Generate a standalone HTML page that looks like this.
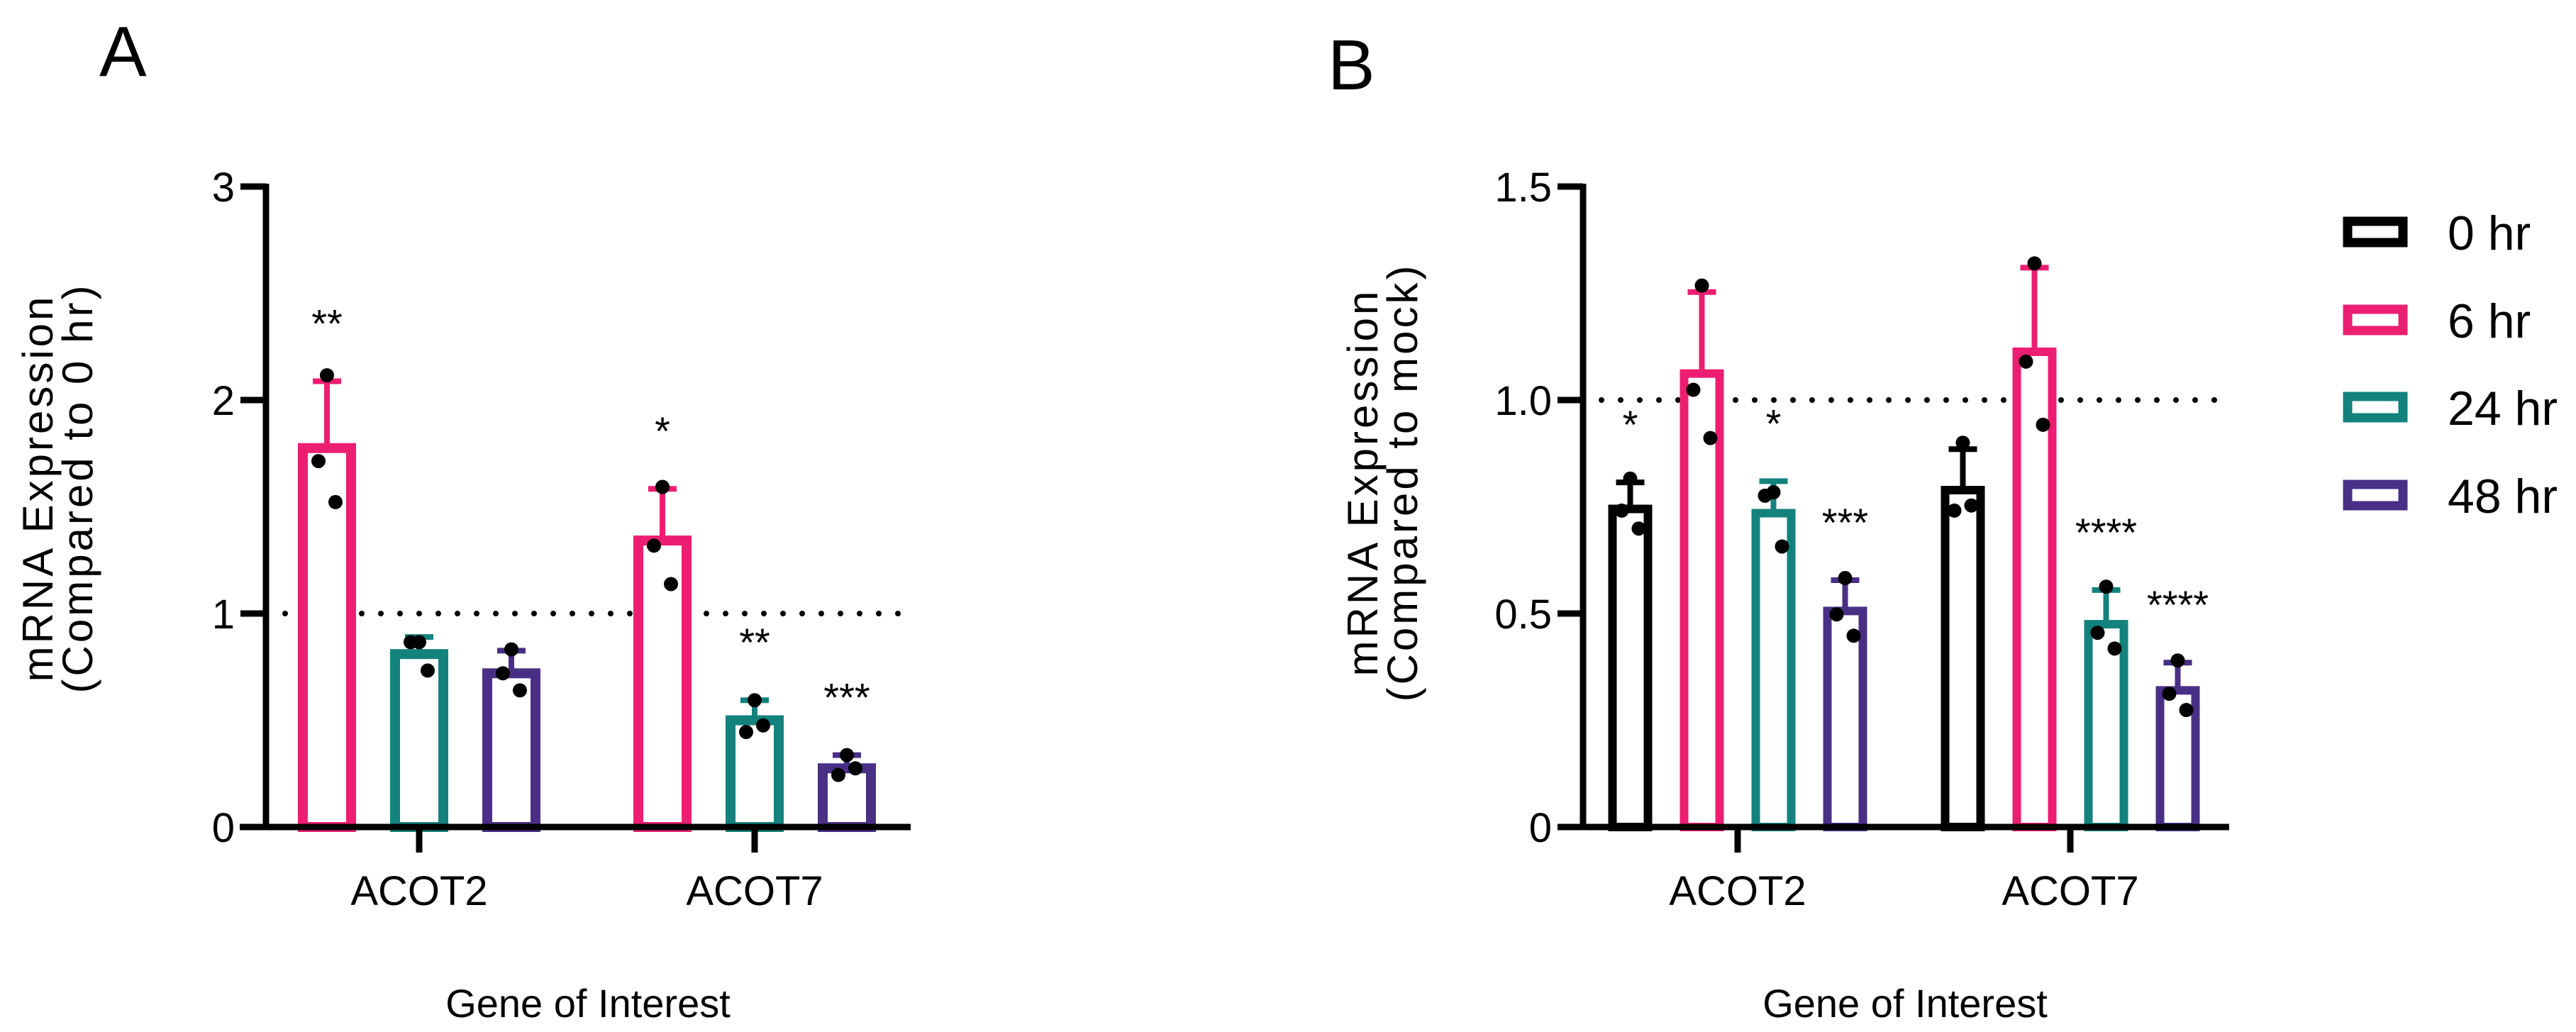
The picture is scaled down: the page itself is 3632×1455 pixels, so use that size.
<!DOCTYPE html>
<html><head><meta charset="utf-8">
<style>
html,body{margin:0;padding:0;background:#fff;}
svg{display:block;}
text{font-family:"Liberation Sans",Arial,sans-serif;fill:#000;}
</style></head>
<body>
<svg id="chart" width="3632" height="1455" viewBox="0 0 3632 1455" xmlns="http://www.w3.org/2000/svg">
  <text x="140" y="107" font-size="100">A</text>
  <text x="1872" y="126" font-size="100">B</text>
  <g id="pa"></g>
  <g id="pb"></g>
  <g id="legend"></g>
</svg>
<script>
const genes = ["ACOT2", "ACOT7"];
const seriesNames = ["0 hr", "6 hr", "24 hr", "48 hr"];
const seriesColors = ["#000000", "#ec1e72", "#13827d", "#4a2f86"];

// Panel A (0 hr absent, reference = 1)
const aSeries = [1, 2, 3];
const aMeans = [[1.775, 0.81, 0.72], [1.342, 0.50, 0.275]];
const aErrTop = [[2.088, 0.89, 0.826], [1.584, 0.594, 0.337]];
const aPoints = [
  [[2.116, 1.714, 1.522], [0.866, 0.866, 0.733], [0.832, 0.72, 0.64]],
  [[1.593, 1.318, 1.138], [0.594, 0.445, 0.476], [0.337, 0.244, 0.275]]
];
const aStars = [["**", "", ""], ["*", "**", "***"]];
const aTicks = [0, 1, 2, 3];
const aTickLabels = ["0", "1", "2", "3"];

// Panel B
const bSeries = [0, 1, 2, 3];
const bMeans = [[0.745, 1.062, 0.735, 0.506], [0.789, 1.113, 0.475, 0.320]];
const bErrTop = [[0.807, 1.253, 0.810, 0.578], [0.885, 1.310, 0.555, 0.385]];
const bPoints = [
  [[0.816, 0.741, 0.699], [1.268, 1.024, 0.911], [0.784, 0.776, 0.657], [0.583, 0.498, 0.448]],
  [[0.900, 0.741, 0.753], [1.320, 1.090, 0.942], [0.563, 0.455, 0.418], [0.390, 0.312, 0.274]]
];
const bStars = [["*", "", "*", "***"], ["", "", "****", "****"]];
const bTicks = [0, 0.5, 1.0, 1.5];
const bTickLabels = ["0", "0.5", "1.0", "1.5"];

const NS = "http://www.w3.org/2000/svg";
function mk(tag, attrs, parent) {
  const e = document.createElementNS(NS, tag);
  for (const k in attrs) e.setAttribute(k, attrs[k]);
  parent.appendChild(e);
  return e;
}
const jit = [0, -12, 12];

function drawPanel(g, cfg) {
  const yS = v => cfg.y0 - (v - 0) / cfg.yMax * (cfg.y0 - cfg.yTop);
  let l = mk("line", {x1: cfg.dotX1, x2: cfg.dotX2, y1: yS(1), y2: yS(1), stroke: "#000", "stroke-width": 8, "stroke-dasharray": "0 27", "stroke-linecap": "round"}, g);
  
  
  genes.forEach((gene, gi) => {
    const cx = cfg.groupX[gi];
    cfg.series.forEach((si, k) => {
      const n = cfg.series.length;
      const x = cx + (k - (n - 1) / 2) * cfg.slot;
      const col = seriesColors[si];
      const m = cfg.means[gi][k];
      const sw = cfg.sw;
      const bar = mk("rect", {x: x - cfg.bw / 2 + sw / 2, y: yS(m), width: cfg.bw - sw, height: yS(0) - yS(m), fill: "#fff", stroke: col, "stroke-width": sw}, g);
      
      
      const et = cfg.err[gi][k];
      const eb = mk("line", {x1: x, x2: x, y1: yS(m), y2: yS(et), stroke: col, "stroke-width": 8}, g);
      
      
      const cap = mk("line", {x1: x - 20, x2: x + 20, y1: yS(et), y2: yS(et), stroke: col, "stroke-width": 8}, g);
      
      
      cfg.points[gi][k].forEach((p, pi) => {
        const c = mk("circle", {cx: x + jit[pi], cy: yS(p), r: 10, fill: "#000"}, g);
        
        
      });
      const st = cfg.stars[gi][k];
      if (st) {
        const t = mk("text", {x: x, y: yS(et) - 62, "font-size": 56, "text-anchor": "middle"}, g);
        t.textContent = st;
        
        
      }
    });
    const tk = mk("line", {x1: cx, x2: cx, y1: cfg.y0, y2: cfg.y0 + 36, stroke: "#000", "stroke-width": 9}, g);
    
    
    const tl = mk("text", {x: cx, y: 1276, "font-size": 58, "text-anchor": "middle"}, g);
    tl.textContent = gene;
    
    
  });
  const ya = mk("line", {x1: cfg.axX, x2: cfg.axX, y1: cfg.yTop - 4, y2: cfg.y0 + 4, stroke: "#000", "stroke-width": 9}, g);
  
  
  const xa = mk("line", {x1: cfg.xaX1, x2: cfg.xaX2, y1: cfg.y0, y2: cfg.y0, stroke: "#000", "stroke-width": 9}, g);
  
  
  cfg.ticks.forEach((tv, i) => {
    const t = mk("line", {x1: cfg.axX - 36, x2: cfg.axX, y1: yS(tv), y2: yS(tv), stroke: "#000", "stroke-width": 9}, g);
    
    
    const lb = mk("text", {x: cfg.axX - 44, y: yS(tv) + 21, "font-size": 58, "text-anchor": "end"}, g);
    lb.textContent = cfg.tickLabels[i];
    
    
  });
  const xt = mk("text", {x: cfg.xTitleX, y: 1434, "font-size": 56, "text-anchor": "middle"}, g);
  xt.textContent = "Gene of Interest";
  
  
  const yt = mk("text", {transform: "translate(" + cfg.yTitleX + "," + cfg.yTitleY + ") rotate(-90)", "font-size": 60, "letter-spacing": 4, "text-anchor": "middle"}, g);
  
  
  const t1 = mk("tspan", {x: 0, y: 0}, yt); t1.textContent = "mRNA Expression";
  const t2 = mk("tspan", {x: 0, y: 56}, yt); t2.textContent = cfg.yTitle2;
}

drawPanel(document.getElementById("pa"), {
  y0: 1166, yTop: 263, yMax: 3, axX: 375, xaX1: 338, xaX2: 1284,
  groupX: [591, 1064], slot: 130, bw: 82, sw: 14,
  series: aSeries, means: aMeans, err: aErrTop, points: aPoints, stars: aStars,
  ticks: aTicks, tickLabels: aTickLabels, dotX1: 402, dotX2: 1282,
  xTitleX: 829, yTitleX: 74, yTitleY: 688, yTitle2: "(Compared to 0 hr)"
});
drawPanel(document.getElementById("pb"), {
  y0: 1166, yTop: 263, yMax: 1.5, axX: 2232, xaX1: 2198, xaX2: 3143,
  groupX: [2450, 2919], slot: 101, bw: 62, sw: 12,
  series: bSeries, means: bMeans, err: bErrTop, points: bPoints, stars: bStars,
  ticks: bTicks, tickLabels: bTickLabels, dotX1: 2258, dotX2: 3140,
  xTitleX: 2686, yTitleX: 1942, yTitleY: 680, yTitle2: "(Compared to mock)"
});

const lg = document.getElementById("legend");
const legY = [327, 451, 574, 698];
seriesNames.forEach((nm, i) => {
  const gI = mk("g", {}, lg);
  
  
  mk("rect", {x: 3310, y: legY[i] - 15, width: 78, height: 30, fill: "#fff", stroke: seriesColors[i], "stroke-width": 13}, gI);
  const t = mk("text", {x: 3451, y: legY[i] + 25, "font-size": 68}, gI);
  t.textContent = nm;
});
</script>
</body></html>
